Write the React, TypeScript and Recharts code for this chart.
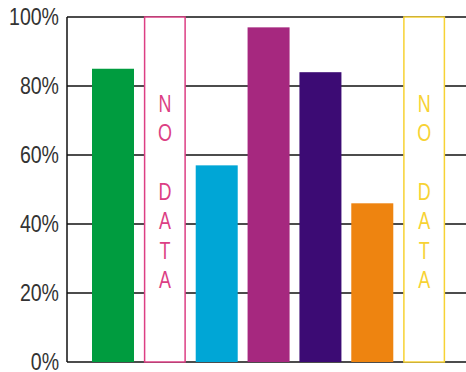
import React from 'react'
import { BarChart, Bar, XAxis, YAxis, CartesianGrid } from 'recharts'

const categories = ['A', 'B', 'C', 'D', 'E', 'F', 'G']
const values: (number | null)[] = [85, null, 57, 97, 84, 46, null]
const colors = ['#009c3f', '#dc3f84', '#00a6d6', '#a6287f', '#3c0b74', '#ee8410', '#f7d234']
const yTicks = [0, 20, 40, 60, 80, 100]
const noDataLetters = ['N', 'O', '', 'D', 'A', 'T', 'A']

const FONT = "'Liberation Sans', Arial, sans-serif"

const data = categories.map((name, i) => ({
  name,
  value: values[i],
  noData: values[i] === null ? 100 : null,
  color: colors[i],
}))

const ValueBar = (props: any) => {
  const { x, y, width, height, payload } = props
  if (!height) return null
  return <rect x={x} y={y} width={width} height={height} fill={payload.color} />
}

const NoDataBar = (props: any) => {
  const { x, y, width, height, payload } = props
  if (!height) return null
  return (
    <g>
      <rect x={x + 0.75} y={y} width={width - 1.5} height={height} fill="#fff" stroke={payload.color} strokeWidth={1.5} />
      {noDataLetters.map((l, i) => (
        <text
          key={i}
          transform={`translate(${x + width / 2}, ${y + 95 + i * 29.3}) scale(0.78, 1)`}
          textAnchor="middle"
          fontSize={23}
          fontFamily={FONT}
          fill={payload.color}
        >
          {l}
        </text>
      ))}
    </g>
  )
}

const YTick = (props: any) => {
  const { x, y, payload } = props
  return (
    <text
      transform={`translate(${x + 4}, ${y + 8}) scale(0.85, 1)`}
      textAnchor="end"
      fontSize={23}
      fontFamily={FONT}
      fill="#333"
    >
      {`${payload.value}%`}
    </text>
  )
}

export default function App() {
  return (
    <div style={{ position: 'absolute', left: 0, top: 0, background: '#fff' }}>
      <BarChart width={466} height={372} data={data} margin={{ top: 17, right: 0, left: 0, bottom: 10 }} barSize={42}>
        <CartesianGrid horizontal vertical={false} stroke="#111" strokeWidth={1.5} />
        <XAxis dataKey="name" hide padding={{ left: 20, right: 16 }} />
        <YAxis
          width={67}
          domain={[0, 100]}
          ticks={yTicks}
          interval={0}
          axisLine={{ stroke: '#111', strokeWidth: 1.5 }}
          tickLine={false}
          tickMargin={6}
          tick={<YTick />}
        />
        <Bar dataKey="value" stackId="s" shape={<ValueBar />} isAnimationActive={false} />
        <Bar dataKey="noData" stackId="s" shape={<NoDataBar />} isAnimationActive={false} />
      </BarChart>
    </div>
  )
}
